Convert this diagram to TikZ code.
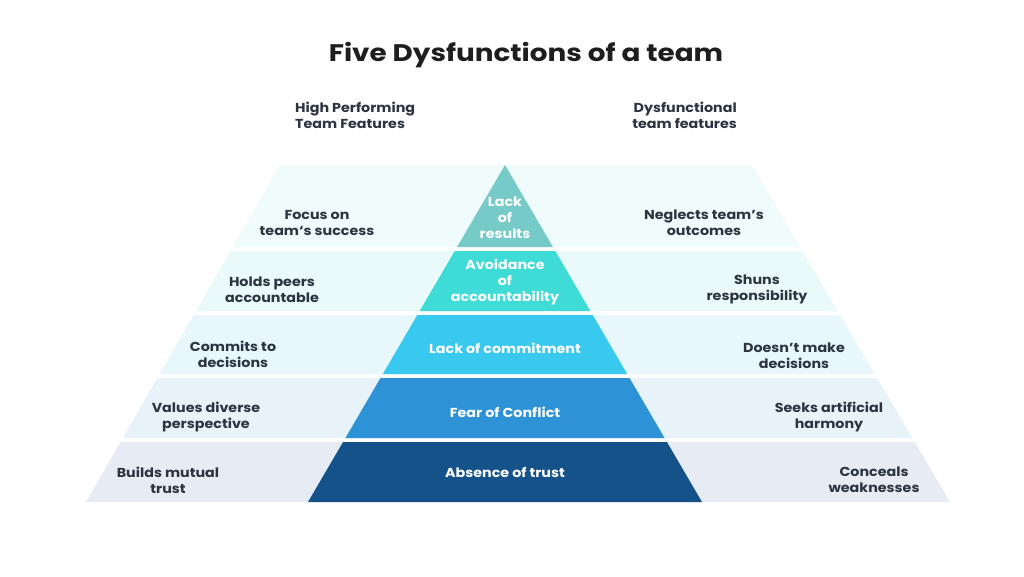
\documentclass[tikz,border=0pt]{standalone}
\usepackage{fontspec}
\setmainfont{Poppins}[FakeStretch=1.1]
\newfontfamily\titlefont{Poppins}[FakeStretch=1.16]
\definecolor{txt}{HTML}{2B3440}
\definecolor{ttl}{HTML}{1E1E1E}
\definecolor{sideA}{HTML}{F0FBFC}
\definecolor{sideB}{HTML}{EAF9FA}
\definecolor{sideC}{HTML}{E8F7FC}
\definecolor{sideD}{HTML}{E8F2F9}
\definecolor{sideE}{HTML}{E7EBF3}
\definecolor{innA}{HTML}{76CBC8}
\definecolor{innB}{HTML}{3FDBD6}
\definecolor{innC}{HTML}{39C9EF}
\definecolor{innD}{HTML}{2D92D6}
\definecolor{innE}{HTML}{155289}
\newcommand\pyband[4]{%
  \fill[#3] ({280-0.576*(#1-165)},#1) -- ({752+0.5875*(#1-165)},#1) -- ({752+0.5875*(#2-165)},#2) -- ({280-0.576*(#2-165)},#2) -- cycle;
  \fill[#4] ({505-0.5846*(#1-165)},#1) -- ({505+0.5846*(#1-165)},#1) -- ({505+0.5846*(#2-165)},#2) -- ({505-0.5846*(#2-165)},#2) -- cycle;
}
\begin{document}
\begin{tikzpicture}[x=1pt,y=-1pt,
  lbl/.style={font=\bfseries\fontsize{13}{16}\selectfont, text=txt, align=center, inner sep=0pt},
  ilbl/.style={lbl, text=white},
  hdr/.style={font=\bfseries\fontsize{13}{16}\selectfont, text=txt, inner sep=0pt}]
\useasboundingbox (0,0) rectangle (1024,576);
\fill[white] (0,0) rectangle (1024,576);
\pyband{165}{247}{sideA}{innA}
\pyband{251}{311}{sideB}{innB}
\pyband{315}{374}{sideC}{innC}
\pyband{378}{438}{sideD}{innD}
\pyband{442}{502}{sideE}{innE}
\node[font=\titlefont\bfseries\fontsize{24}{28}\selectfont, text=ttl, inner sep=0pt] (title) at (526,55) {Five Dysfunctions of a team};
\node[hdr, align=left, anchor=west] (hl) at (295,115) {High Performing\\Team Features};
\node[hdr, align=right, anchor=east] (hr) at (737,115) {Dysfunctional\\team features};
\node[lbl] (l1) at (317,223) {Focus on\\team‘s success};
\node[lbl] (r1) at (704,223) {Neglects team’s\\outcomes};
\node[lbl] (l2) at (272,290) {Holds peers\\accountable};
\node[lbl] (r2) at (757,289) {Shuns\\responsibility};
\node[lbl] (l3) at (233,354) {Commits to\\decisions};
\node[lbl] (r3) at (794,356) {Doesn’t make\\decisions};
\node[lbl] (l4) at (206,417) {Values diverse\\perspective};
\node[lbl] (r4) at (829,417) {Seeks artificial\\harmony};
\node[lbl] (l5) at (168,480) {Builds mutual\\trust};
\node[lbl] (r5) at (874,480) {Conceals\\weaknesses};
\node[ilbl] (i1) at (505,218) {Lack\\of\\results};
\node[ilbl] (i2) at (505,282) {Avoidance\\of\\accountability};
\node[ilbl] (i3) at (505,348) {Lack of commitment};
\node[ilbl] (i4) at (505,412) {Fear of Conflict};
\node[ilbl] (i5) at (505,472) {Absence of trust};
\end{tikzpicture}
\end{document}
